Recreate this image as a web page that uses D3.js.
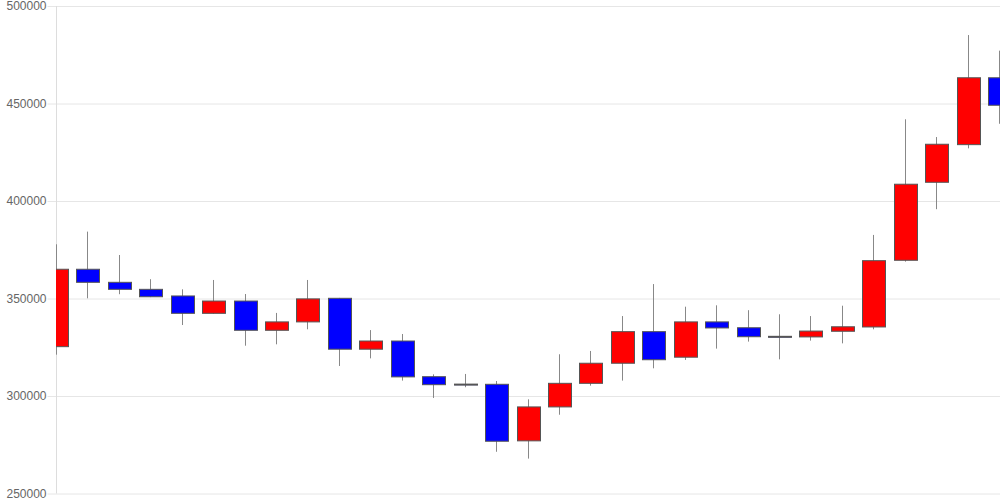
<!DOCTYPE html>
<html>
<head>
<meta charset="utf-8">
<script src="https://cdn.jsdelivr.net/npm/d3@7"></script>
<style>
  html, body { margin: 0; padding: 0; background: #fff; }
  svg { display: block; font-family: "Liberation Sans", Arial, sans-serif; }
</style>
</head>
<body>
<div id="chart"></div>
<script>
// candle data (values in yen)
var opens  = [325300, 365000, 358300, 354700, 351300, 342400, 348700, 333700, 338000, 350100,
              324000, 328200, 309900, 306100, 306000, 277000, 294400, 306500, 316800, 333000,
              319900, 338000, 335000, 330600, 330300, 333200, 335400, 369600, 409600, 428900, 463200];
var closes = [365000, 358300, 354700, 350900, 342400, 348700, 333700, 338000, 349800, 324000,
              328200, 309800, 305800, 306000, 276800, 294400, 306500, 316800, 333000, 318600,
              338000, 334900, 330400, 330100, 333300, 335500, 369400, 408600, 429100, 463200, 449100];
var highs  = [377800, 384300, 372300, 359900, 354700, 359500, 352300, 342600, 359500, 350300,
              333800, 331800, 311100, 311300, 307700, 298300, 321400, 323100, 341000, 357400,
              345800, 346500, 344000, 341900, 341000, 346300, 382600, 441900, 432800, 485100, 477100];
var lows   = [321200, 350100, 352200, 350700, 336400, 342200, 325800, 326500, 334200, 315400,
              319300, 307900, 299000, 304500, 271400, 267900, 290400, 305300, 307900, 314200,
              318500, 324300, 327900, 318800, 328400, 327000, 334200, 368900, 395800, 427000, 439600];
var yTicks = [250000, 300000, 350000, 400000, 450000, 500000];

var W = 1000, H = 500;
var padL = 56.5, padR = 999.5, padT = 6, padB = 493.5;

var svg = d3.select("#chart").append("svg")
  .attr("width", W).attr("height", H);

var idx = d3.range(opens.length);
var x = d3.scalePoint().domain(idx).range([padL, padR]);
var y = d3.scaleLinear().domain([250000, 500000]).range([padB, padT]);
var candleW = x.step() * 0.73;

// grid + y labels
var yAxis = d3.axisLeft(y).tickValues(yTicks).tickSize(0).tickPadding(2)
  .tickFormat(d3.format("d"));
var gy = svg.append("g").attr("transform", "translate(" + (padL - 9) + ",0)").call(yAxis);
gy.select(".domain").remove();
gy.selectAll(".tick line").attr("stroke", "#e6e6e6").attr("x2", W - padL + 9);
gy.selectAll(".tick text").attr("fill", "#666").attr("font-size", 12).attr("x", -1);

svg.append("line")
  .attr("x1", padL).attr("x2", padL).attr("y1", padT).attr("y2", padB)
  .attr("stroke", "#ddd");

svg.append("clipPath").attr("id", "plot")
  .append("rect").attr("x", padL - 0.5).attr("y", 0).attr("width", W - padL + 0.5).attr("height", H);

var g = svg.append("g").attr("clip-path", "url(#plot)");

var candles = g.selectAll(".candle").data(idx).enter().append("g");

// wicks
candles.append("line")
  .attr("x1", function(i) { return Math.floor(x(i)) + 0.5; })
  .attr("x2", function(i) { return Math.floor(x(i)) + 0.5; })
  .attr("y1", function(i) { return y(highs[i]); })
  .attr("y2", function(i) { return y(lows[i]); })
  .attr("stroke", "#888").attr("stroke-width", 1);

// bodies
candles.append("rect")
  .attr("x", function(i) { return Math.round(x(i) - candleW / 2) + 0.5; })
  .attr("width", Math.round(candleW))
  .attr("y", function(i) { return y(Math.max(opens[i], closes[i])); })
  .attr("height", function(i) { return Math.max(1, Math.abs(y(opens[i]) - y(closes[i]))); })
  .attr("fill", function(i) { return closes[i] >= opens[i] ? "#ff0000" : "#0000ff"; })
  .attr("stroke", "#555").attr("stroke-width", 1);
</script>
</body>
</html>
